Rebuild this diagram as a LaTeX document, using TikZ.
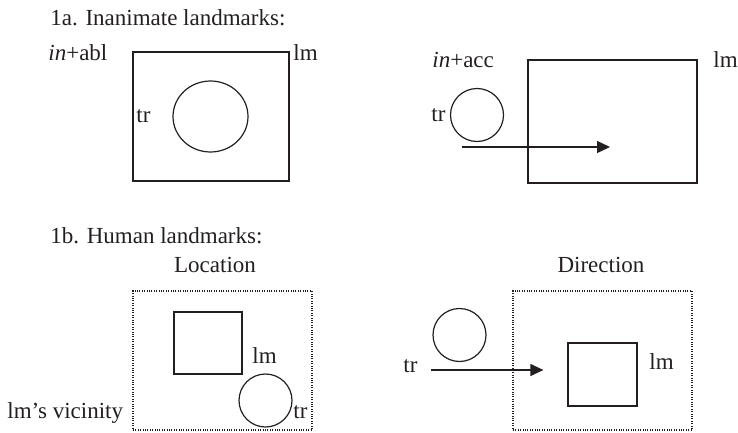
\documentclass[tikz,border=0pt]{standalone}
\usepackage{fontspec}
\setmainfont{Liberation Serif}
\definecolor{lmink}{HTML}{231F20}
\usetikzlibrary{arrows.meta, shapes.geometric}

\begin{document}
\begin{tikzpicture}[x=0.5pt, y=-0.5pt, every node/.style={font=\fontsize{11.5}{14}\selectfont, text=lmink, inner sep=0pt},
    lmbox/.style={draw=lmink, line width=0.6pt, rectangle},
    vicinity/.style={draw=lmink, line width=0.6pt, dash pattern=on 0.5pt off 0.7pt, rectangle},
    trball/.style={draw=lmink, line width=0.6pt, circle, minimum size=26.5pt},
    label/.style={anchor=base west}]
        \useasboundingbox (0,0) rectangle (738,433);
        % 1a: inanimate landmarks
        \node[label] (heada) at (50,26) {1a. Inanimate landmarks:};
        \node[label] (abl) at (48,61) {\textit{in}+abl};
        \node[lmbox, minimum width=78pt, minimum height=64.5pt] (lmabl) at (211,116.5) {};
        \node[label] (lmablt) at (293,61) {lm};
        \node[draw=lmink, line width=0.6pt, ellipse, minimum width=37.5pt, minimum height=35.5pt] (trabl) at (210.5,116.5) {};
        \node[label] (trablt) at (136,122) {tr};
        \node[label] (acc) at (432,68) {\textit{in}+acc};
        \node[lmbox, minimum width=84.5pt, minimum height=61.5pt] (lmacc) at (612.5,121.5) {};
        \node[label] (lmacct) at (713,68) {lm};
        \node[trball] (tracc) at (477,115) {};
        \node[label] (tracct) at (431,121) {tr};
        \coordinate (accfrom) at (462,147);
        \coordinate (accto) at (610,147);
        \draw[-{Triangle[length=6.5pt, width=6pt]}, lmink, line width=0.6pt] (accfrom) -- (accto);
        % 1b: human landmarks
        \node[label] (headb) at (50,243) {1b. Human landmarks:};
        \node[anchor=base] (loc) at (215,272) {Location};
        \node[anchor=base] (dir) at (601,272) {Direction};
        \node[vicinity, minimum width=89.5pt, minimum height=69.5pt] (vicloc) at (222.5,360.5) {};
        \node[lmbox, minimum width=34pt, minimum height=31pt] (lmloc) at (208,343) {};
        \node[label] (lmloct) at (252,363) {lm};
        \node[trball] (trloc) at (265.5,400.5) {};
        \node[label] (trloct) at (293,418) {tr};
        \node[label] (vict) at (7,418) {lm’s vicinity};
        \node[vicinity, minimum width=89.5pt, minimum height=69.5pt] (vicdir) at (602.5,360.5) {};
        \node[trball] (trdir) at (459.5,335) {};
        \node[label] (trdirt) at (403,372) {tr};
        \node[lmbox, minimum width=34.5pt, minimum height=31.5pt] (lmdir) at (602.5,374.5) {};
        \node[label] (lmdirt) at (649,369) {lm};
        \coordinate (dirfrom) at (431,370);
        \draw[-{Triangle[length=6.5pt, width=6pt]}, lmink, line width=0.6pt, shorten >=12pt] (dirfrom) -- (dirfrom -| lmdir.west);
      \end{tikzpicture}
\end{document}
